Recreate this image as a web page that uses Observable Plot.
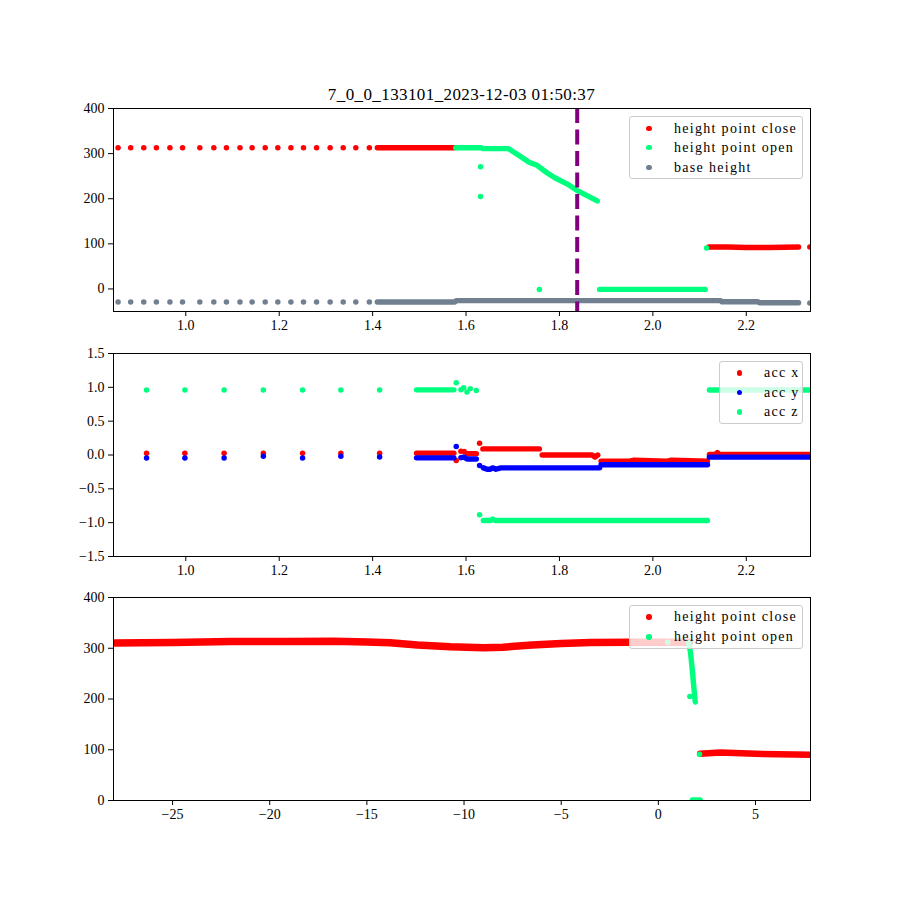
<!DOCTYPE html>
<html><head><meta charset="utf-8">
<script src="https://cdn.jsdelivr.net/npm/d3@7"></script>
<script src="https://cdn.jsdelivr.net/npm/@observablehq/plot@0.6"></script>
<style>
body{margin:0;background:#fff;}
#fig{position:relative;width:900px;height:900px;background:#fff;font-family:"Liberation Serif",serif;color:#000;}
.title{position:absolute;left:113px;width:697px;top:85px;line-height:20px;text-align:center;font-size:17px;letter-spacing:0.4px;font-family:"Liberation Serif",serif;}
.legend{position:absolute;border:1px solid #cccccc;border-radius:3px;background:rgba(255,255,255,0.8);box-sizing:border-box;}
.legend .mk{position:absolute;width:5.4px;height:5.4px;border-radius:50%;}
.legend .tx{position:absolute;font-size:14px;letter-spacing:1.3px;line-height:16px;white-space:nowrap;}
</style></head><body><div id="fig"></div><script>
// ---------- data ----------
const titleText = "7_0_0_133101_2023-12-03 01:50:37";
const timeTicks = [1.0, 1.2, 1.4, 1.6, 1.8, 2.0, 2.2];
const heightTicks = [0, 100, 200, 300, 400];
const accTicks = [-1.5, -1.0, -0.5, 0.0, 0.5, 1.0, 1.5];
const posTicks = [-25, -20, -15, -10, -5, 0, 5];

// panel 1: height vs time
const topSparseT = [0.855,0.882,0.910,0.937,0.966,0.993,1.030,1.060,1.087,1.116,1.142,1.170,1.197,1.225,1.252,1.280,1.309,1.337,1.364,1.393];
const topCloseSparseV = [313,313,313,313,313,313,313,313,313,313,313,313,313,313,313,313,313,313,313,313];
const topBaseSparseV = [-29,-29,-29,-29,-29,-29,-29,-29,-29,-29,-29,-29,-29,-29,-29,-29,-29,-29,-29,-29];
const topCloseRunT = [1.410, 1.575, null, 2.120, 2.160, 2.200, 2.250, 2.312];
const topCloseRunV = [313, 313, null, 93, 93, 92, 92, 93];
const topCloseDotT = [2.336];
const topCloseDotV = [93];
const topOpenRunT = [1.578, 1.632, 1.636, 1.691, 1.716, 1.735, 1.752, 1.774, 1.791, 1.816, 1.838, 1.859, 1.881, null, 1.886, 2.112];
const topOpenRunV = [313, 313, 311, 311, 294, 281, 274, 257, 246, 233, 218, 207, 195, null, -1, -1];
const topOpenDotT = [1.631, 1.631, 1.757, 2.115];
const topOpenDotV = [271, 205, -1, 91];
const topBaseRunT = [1.410, 1.576, 1.579, 2.145, 2.148, 2.225, 2.228, 2.312];
const topBaseRunV = [-29, -29, -26, -26, -28.5, -28.5, -30.5, -30.5];
const topBaseDotT = [2.336];
const topBaseDotV = [-31];
const markerT = [1.838];

// panel 2: acceleration vs time
const accSparseT = [0.916, 0.998, 1.082, 1.166, 1.250, 1.332, 1.415];
const accXSparseV = [0.025, 0.025, 0.025, 0.025, 0.025, 0.025, 0.025];
const accYSparseV = [-0.045, -0.045, -0.045, -0.02, -0.045, -0.02, -0.03];
const accZSparseV = [0.96, 0.96, 0.96, 0.96, 0.96, 0.96, 0.96];
const accXRunT = [1.494, 1.574, null, 1.602, 1.622, null, 1.636, 1.757, null, 1.763, 1.870, 1.876, 1.882, null, 1.889, 1.950, 1.960, 2.030, 2.040, 2.117, null, 2.121, 2.133, 2.138, 2.143, 2.336];
const accXRunV = [0.027, 0.027, null, 0.02, 0.02, null, 0.09, 0.09, null, 0.0, 0.0, -0.03, 0.0, null, -0.09, -0.09, -0.075, -0.09, -0.078, -0.09, null, 0.007, 0.007, 0.035, 0.007, 0.007];
const accXDotT = [1.579, 1.589, 1.596, 1.629];
const accXDotV = [-0.08, 0.056, 0.05, 0.175];
const accYRunT = [1.494, 1.574, null, 1.589, 1.595, 1.602, 1.622, null, 1.637, 1.645, 1.652, 1.657, 1.664, 1.675, 1.886, null, 1.889, 2.117, null, 2.121, 2.336];
const accYRunV = [-0.042, -0.042, null, -0.04, -0.03, -0.06, -0.06, null, -0.19, -0.21, -0.21, -0.19, -0.21, -0.19, -0.19, null, -0.145, -0.145, null, -0.032, -0.032];
const accYDotT = [1.579, 1.629];
const accYDotV = [0.126, -0.155];
const accZRunT = [1.494, 1.574, null, 1.637, 1.652, 1.657, 1.662, 2.117, null, 2.121, 2.336];
const accZRunV = [0.963, 0.963, null, -0.968, -0.968, -0.945, -0.968, -0.968, null, 0.96, 0.96];
const accZDotT = [1.579, 1.589, 1.595, 1.602, 1.609, 1.622, 1.629];
const accZDotV = [1.067, 0.963, 0.993, 0.93, 0.978, 0.953, -0.884];

// panel 3: height vs position
const posCloseLeftT = [-28.2, -25.0, -22.0, -19.0, -16.7, -15.0, -13.8, -12.4, -10.7, -9.0, -8.0, -6.5, -5.0, -3.5, -1.5, 0.4, 1.6];
const posCloseLeftV = [310.5, 311.5, 313.3, 313.5, 314, 312.5, 311, 306.5, 303, 301, 302, 306.5, 309.5, 311.5, 312, 312, 312];
const posCloseRightT = [2.15, 3.2, 5.0, 7.0, 8.0];
const posCloseRightV = [92, 94.5, 92, 90.5, 90];
const posOpenRunT = [1.55, 1.65, 1.70, 1.76, 1.82, 1.90, null, 1.75, 2.15];
const posOpenRunV = [311, 293, 275, 252, 225, 194, null, 1, 1];
const posOpenDotT = [0.48, 1.62, 2.12];
const posOpenDotV = [312, 205, 91];

// ---------- drawing ----------
const RED = "#ff0000", GREEN = "#00ff7f", GREY = "#708090", BLUE = "#0000ff", PURPLE = "#800080";
const fig = document.getElementById("fig");

function seg(t, v) {
  const out = []; let s = 0;
  t.forEach((x, i) => { if (x == null || v[i] == null) { s++; return; } out.push({x, y: v[i], s}); });
  return out;
}
const pts = (t, v) => t.map((x, i) => ({x, y: v[i]}));
const run = (t, v, color, w = 5.4) => Plot.line(seg(t, v), {x: "x", y: "y", z: "s", stroke: color, strokeWidth: w, strokeLinecap: "round", strokeLinejoin: "round", clip: true});
const dots = (t, v, color) => Plot.dot(pts(t, v), {x: "x", y: "y", r: 2.75, fill: color, clip: true});

function panel({top, xDomain, yDomain, xTicks, yTicks, xFmt, yFmt, marks}) {
  const svg = Plot.plot({
    width: 900, height: 245,
    marginLeft: 113, marginRight: 90, marginTop: 8, marginBottom: 34,
    x: {domain: xDomain}, y: {domain: yDomain},
    style: {fontFamily: "Liberation Serif", fontSize: "14px", color: "black", background: "transparent", overflow: "visible"},
    marks: [
      ...marks,
      Plot.frame({stroke: "black", strokeWidth: 1}),
      Plot.axisX({ticks: xTicks, tickFormat: xFmt, tickSize: 5, tickPadding: 4, label: null, fontSize: 14}),
      Plot.axisY({ticks: yTicks, tickFormat: yFmt, tickSize: 5, tickPadding: 4, label: null, fontSize: 14})
    ]
  });
  svg.style.position = "absolute";
  svg.style.left = "0px";
  svg.style.top = top + "px";
  fig.appendChild(svg);
}

function legend(left, top, w, h, markerX, textX, rows) {
  const box = document.createElement("div");
  box.className = "legend";
  Object.assign(box.style, {left: left + "px", top: top + "px", width: w + "px", height: h + "px"});
  rows.forEach(([label, color, cy]) => {
    const mk = document.createElement("div");
    mk.className = "mk";
    Object.assign(mk.style, {left: (markerX - left - 2.7) + "px", top: (cy - top - 2.7) + "px", background: color});
    const tx = document.createElement("div");
    tx.className = "tx";
    tx.textContent = label;
    Object.assign(tx.style, {left: (textX - left) + "px", top: (cy - top - 8) + "px"});
    box.appendChild(mk); box.appendChild(tx);
  });
  fig.appendChild(box);
}

const f1 = d3.format(".1f"), f0 = d3.format("d");

panel({
  top: 100, xDomain: [0.8452, 2.3375], yDomain: [-50, 400], xTicks: timeTicks, yTicks: heightTicks, xFmt: f1, yFmt: f0,
  marks: [
    dots(topSparseT, topCloseSparseV, RED), run(topCloseRunT, topCloseRunV, RED), dots(topCloseDotT, topCloseDotV, RED),
    run(topOpenRunT, topOpenRunV, GREEN), dots(topOpenDotT, topOpenDotV, GREEN),
    dots(topSparseT, topBaseSparseV, GREY), run(topBaseRunT, topBaseRunV, GREY), dots(topBaseDotT, topBaseDotV, GREY),
    Plot.ruleX(markerT, {x: d => d, stroke: PURPLE, strokeWidth: 4, strokeDasharray: "15,6.5"})
  ]
});

panel({
  top: 345, xDomain: [0.8452, 2.3375], yDomain: [-1.5, 1.5], xTicks: timeTicks, yTicks: accTicks, xFmt: f1, yFmt: f1,
  marks: [
    dots(accSparseT, accXSparseV, RED), run(accXRunT, accXRunV, RED), dots(accXDotT, accXDotV, RED),
    dots(accSparseT, accYSparseV, BLUE), run(accYRunT, accYRunV, BLUE), dots(accYDotT, accYDotV, BLUE),
    dots(accSparseT, accZSparseV, GREEN), run(accZRunT, accZRunV, GREEN), dots(accZDotT, accZDotV, GREEN)
  ]
});

panel({
  top: 589, xDomain: [-28.04, 7.83], yDomain: [0, 400], xTicks: posTicks, yTicks: heightTicks, xFmt: f0, yFmt: f0,
  marks: [
    run(posCloseLeftT, posCloseLeftV, RED, 7.5),
    run(posCloseRightT, posCloseRightV, RED, 6.5),
    run(posOpenRunT, posOpenRunV, GREEN), dots(posOpenDotT, posOpenDotV, GREEN)
  ]
});

const title = document.createElement("div");
title.className = "title";
title.textContent = titleText;
fig.appendChild(title);

legend(629, 116, 174, 63, 648, 673, [["height point close", RED, 127.5], ["height point open", GREEN, 146.5], ["base height", GREY, 166.5]]);
legend(719, 361, 84, 63, 738.5, 763, [["acc x", RED, 372], ["acc y", BLUE, 391.5], ["acc z", GREEN, 411]]);
legend(629, 605, 174, 44, 648, 673, [["height point close", RED, 616], ["height point open", GREEN, 636]]);
</script></body></html>
